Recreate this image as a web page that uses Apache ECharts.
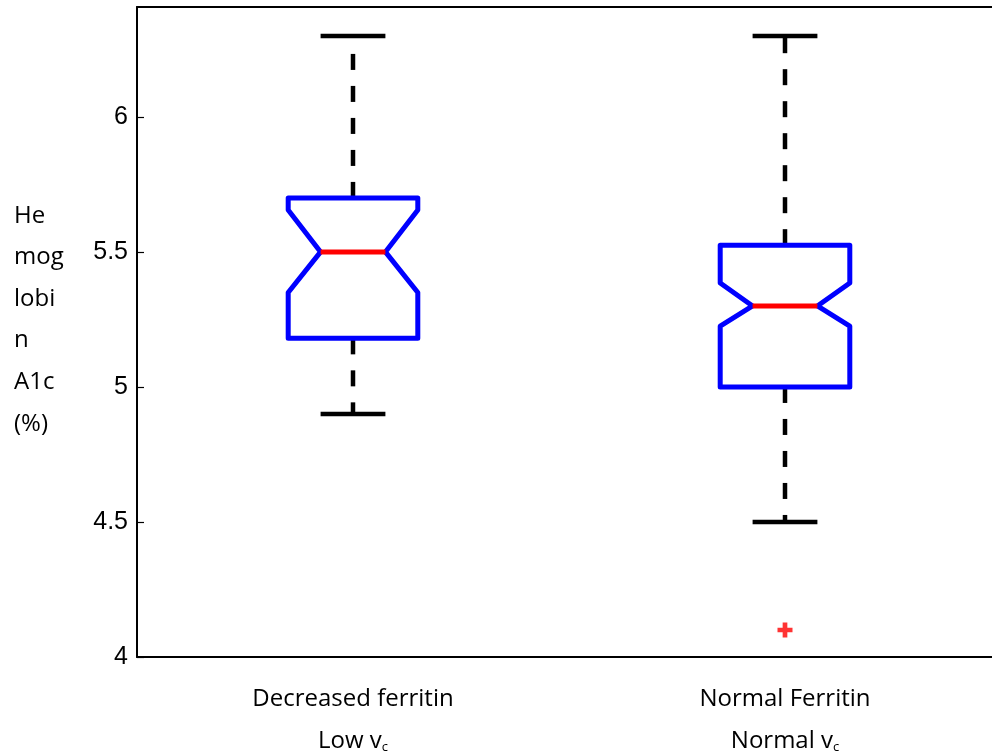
<!DOCTYPE html>
<html>
<head>
<meta charset="utf-8">
<script src="https://cdn.jsdelivr.net/npm/echarts@6/dist/echarts.min.js"></script>
<style>html,body{margin:0;padding:0;background:#fff}#c{width:992px;height:754px}</style>
</head>
<body>
<div id="c"></div>
<script>
const categories = ['Decreased ferritin\nLow v{sub|c}', 'Normal Ferritin\nNormal v{sub|c}'];
const whiskerLow = [4.9, 4.5];
const q1 = [5.18, 5.0];
const median = [5.5, 5.3];
const q3 = [5.7, 5.525];
const whiskerHigh = [6.3, 6.3];
const notchLow = [5.35, 5.225];
const notchHigh = [5.655, 5.385];
const outliers = [[1, 4.1]];
const yTicks = [4, 4.5, 5, 5.5, 6];
const yTitle = 'He\nmog\nlobi\nn\nA1c\n(%)';

const boxData = categories.map((c, i) => [i, whiskerLow[i], q1[i], median[i], q3[i], whiskerHigh[i], notchLow[i], notchHigh[i]]);

const chart = echarts.init(document.getElementById('c'));
const BLUE = '#0000ff', RED = '#ff0000';

function renderBox(params, api) {
  const i = api.value(0);
  const bw = api.size([1, 0])[0] * 0.3;
  const cx = api.coord([i, 0])[0];
  const y = k => api.coord([i, api.value(k)])[1];
  const yLow = y(1), yQ1 = y(2), yMed = y(3), yQ3 = y(4), yHigh = y(5), yNL = y(6), yNH = y(7);
  const L = cx - bw / 2, R = cx + bw / 2, inset = bw / 4, cap = bw / 4;
  const dash = { stroke: '#000', lineWidth: 4.5, lineDash: [16, 16] };
  return {
    type: 'group',
    children: [
      { type: 'line', shape: { x1: cx, y1: yQ3, x2: cx, y2: yHigh }, style: dash },
      { type: 'line', shape: { x1: cx, y1: yQ1, x2: cx, y2: yLow }, style: dash },
      { type: 'line', shape: { x1: cx - cap, y1: yHigh, x2: cx + cap, y2: yHigh }, style: { stroke: '#000', lineWidth: 4.5 } },
      { type: 'line', shape: { x1: cx - cap, y1: yLow, x2: cx + cap, y2: yLow }, style: { stroke: '#000', lineWidth: 4.5 } },
      { type: 'polygon', shape: { points: [
          [L, yQ3], [L, yNH], [L + inset, yMed], [L, yNL], [L, yQ1],
          [R, yQ1], [R, yNL], [R - inset, yMed], [R, yNH], [R, yQ3]
        ] }, style: { fill: 'none', stroke: BLUE, lineWidth: 5, lineJoin: 'round' } },
      { type: 'line', shape: { x1: L + inset, y1: yMed, x2: R - inset, y2: yMed }, style: { stroke: RED, lineWidth: 5 } }
    ]
  };
}

chart.setOption({
  animation: false,
  backgroundColor: '#fff',
  grid: { left: 137, top: 7, width: 864, height: 650, outerBoundsMode: 'none', containLabel: false, show: false },
  xAxis: [{
    type: 'category',
    data: categories,
    boundaryGap: true,
    axisLine: { lineStyle: { color: '#000', width: 2 } },
    axisTick: { inside: true, length: 8, alignWithLabel: true, lineStyle: { color: '#000', width: 1.5 } },
    splitLine: { show: false },
    axisLabel: {
      margin: 21,
      color: '#000',
      fontFamily: 'Open Sans',
      fontSize: 24,
      lineHeight: 42,
      rich: {
        sub: { fontFamily: 'Open Sans', fontSize: 13, color: '#000', padding: [12, 0, 0, 0], lineHeight: 42 }
      }
    }
  }, {
    type: 'category',
    position: 'top',
    data: categories,
    axisLine: { show: true, lineStyle: { color: '#000', width: 2 } },
    axisTick: { show: false },
    axisLabel: { show: false },
    splitLine: { show: false }
  }],
  yAxis: {
    type: 'value',
    min: 4,
    max: 6.407,
    interval: 0.5,
    axisLine: { show: true, lineStyle: { color: '#000', width: 2 } },
    axisTick: { show: true, inside: true, length: 7, lineStyle: { color: '#000', width: 1.2 } },
    splitLine: { show: false },
    axisLabel: {
      margin: 9,
      color: '#000',
      fontFamily: 'Liberation Sans',
      fontSize: 25,
      showMaxLabel: false,
      formatter: v => (yTicks.indexOf(Math.round(v * 100) / 100) >= 0 ? String(v) : '')
    }
  },
  graphic: [{
    type: 'text',
    left: 14,
    top: 195,
    style: { text: yTitle, fontFamily: 'Open Sans', fontSize: 24, lineHeight: 41.6, fill: '#000' }
  }],
  series: [
    { type: 'custom', renderItem: renderBox, data: boxData, encode: { x: 0, y: [1, 5] }, z: 3 },
    {
      type: 'scatter',
      data: outliers,
      symbol: 'path://M5.5,0H10.5V5.5H16V10.5H10.5V16H5.5V10.5H0V5.5H5.5Z',
      symbolSize: 15,
      itemStyle: { color: RED },
      z: 4
    }
  ]
});
</script>
</body>
</html>
